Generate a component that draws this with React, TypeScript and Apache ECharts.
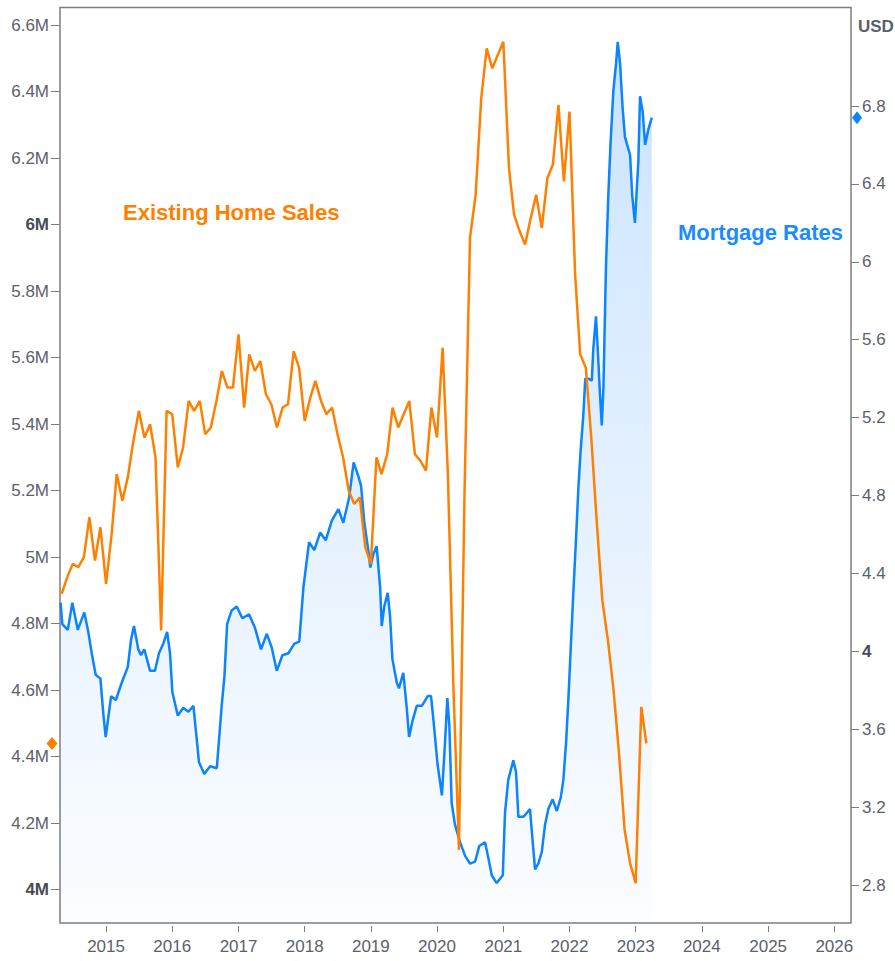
import React, { useEffect, useRef } from 'react';
import * as echarts from 'echarts';

// Existing Home Sales (millions, SAAR), monthly from May 2014
const salesStartYear = 2014;
const salesStartMonth = 5;
const salesValues = [
  4.89, 4.94, 4.98, 4.97, 5.0, 5.12, 4.99, 5.09,
  4.92, 5.07, 5.25, 5.17, 5.24, 5.35, 5.44, 5.36, 5.4, 5.3, 4.78, 5.44,
  5.43, 5.27, 5.33, 5.47, 5.44, 5.47, 5.37, 5.39, 5.47, 5.56, 5.51, 5.51,
  5.67, 5.45, 5.61, 5.56, 5.59, 5.49, 5.46, 5.39, 5.45, 5.46, 5.62, 5.57,
  5.41, 5.48, 5.53, 5.47, 5.43, 5.45, 5.37, 5.3, 5.2, 5.16, 5.18, 5.03,
  4.98, 5.3, 5.25, 5.31, 5.45, 5.39, 5.43, 5.47, 5.31, 5.29, 5.26, 5.45,
  5.36, 5.63, 5.25, 4.6, 4.12, 5.2, 5.96, 6.09, 6.38, 6.53, 6.47, 6.51,
  6.55, 6.17, 6.03, 5.98, 5.94, 6.02, 6.09, 5.99, 6.14, 6.18, 6.36, 6.13,
  6.34, 5.85, 5.61, 5.57, 5.36, 5.1, 4.87, 4.75, 4.6, 4.41, 4.18, 4.08,
  4.02, 4.55, 4.44,
];

// Mortgage Rates (%)
const rateDates = [
  '2014-04-25', '2014-05-05', '2014-06-04', '2014-06-29', '2014-07-29', '2014-09-03', '2014-09-25', '2014-10-14',
  '2014-11-05', '2014-12-01', '2014-12-17', '2014-12-30', '2015-01-29', '2015-02-24', '2015-03-29', '2015-05-01',
  '2015-05-19', '2015-06-04', '2015-06-28', '2015-07-13', '2015-07-31', '2015-09-01', '2015-09-28', '2015-10-20',
  '2015-11-13', '2015-12-04', '2015-12-20', '2016-01-02', '2016-02-01', '2016-03-02', '2016-03-30', '2016-04-27',
  '2016-05-28', '2016-06-26', '2016-07-28', '2016-09-03', '2016-09-30', '2016-10-15', '2016-10-30', '2016-11-24',
  '2016-12-22', '2017-01-22', '2017-02-28', '2017-04-02', '2017-05-05', '2017-06-06', '2017-07-03', '2017-07-31',
  '2017-08-31', '2017-10-03', '2017-11-05', '2017-12-02', '2017-12-25', '2018-01-25', '2018-02-23', '2018-03-27',
  '2018-04-27', '2018-05-30', '2018-07-06', '2018-08-02', '2018-09-03', '2018-09-28', '2018-10-24', '2018-11-08',
  '2018-11-26', '2018-12-18', '2018-12-29', '2019-01-15', '2019-02-02', '2019-02-21', '2019-03-02', '2019-03-16',
  '2019-04-04', '2019-04-17', '2019-04-30', '2019-05-24', '2019-06-05', '2019-06-29', '2019-07-18', '2019-07-31',
  '2019-08-18', '2019-09-11', '2019-10-09', '2019-11-11', '2019-11-29', '2019-12-12', '2020-01-04', '2020-01-28',
  '2020-02-14', '2020-02-27', '2020-03-09', '2020-03-22', '2020-04-09', '2020-05-07', '2020-06-04', '2020-07-01',
  '2020-07-29', '2020-08-21', '2020-09-22', '2020-10-10', '2020-10-29', '2020-11-25', '2020-12-29', '2021-01-10',
  '2021-01-28', '2021-02-25', '2021-03-12', '2021-03-25', '2021-04-21', '2021-05-10', '2021-05-28', '2021-06-12',
  '2021-06-25', '2021-07-13', '2021-08-01', '2021-08-19', '2021-09-06', '2021-09-30', '2021-10-23', '2021-11-14',
  '2021-11-28', '2021-12-13', '2021-12-26', '2022-01-08', '2022-01-22', '2022-02-06', '2022-02-19', '2022-03-04',
  '2022-03-18', '2022-03-29', '2022-04-15', '2022-05-04', '2022-05-12', '2022-05-27', '2022-06-06', '2022-06-18',
  '2022-06-28', '2022-07-07', '2022-07-21', '2022-08-03', '2022-08-16', '2022-08-31', '2022-09-15', '2022-09-24',
  '2022-10-07', '2022-10-21', '2022-11-03', '2022-12-01', '2022-12-13', '2022-12-28', '2023-01-07', '2023-01-16',
  '2023-01-25', '2023-02-09', '2023-02-22', '2023-03-12', '2023-03-31',
];
const rateValues = [
  4.25, 4.14, 4.11, 4.25, 4.11, 4.2, 4.1, 3.99,
  3.88, 3.86, 3.68, 3.56, 3.77, 3.75, 3.84, 3.92,
  4.06, 4.13, 4.01, 3.98, 4.01, 3.9, 3.9, 3.99,
  4.04, 4.1, 3.99, 3.79, 3.67, 3.71, 3.69, 3.72,
  3.43, 3.37, 3.41, 3.4, 3.72, 3.87, 4.14, 4.21,
  4.23, 4.17, 4.19, 4.12, 4.01, 4.09, 4.02, 3.9,
  3.98, 3.99, 4.04, 4.05, 4.33, 4.56, 4.52, 4.61,
  4.57, 4.67, 4.73, 4.66, 4.79, 4.97, 4.9, 4.85,
  4.66, 4.52, 4.43, 4.5, 4.54, 4.33, 4.13, 4.23,
  4.3, 4.18, 3.96, 3.84, 3.81, 3.89, 3.71, 3.56,
  3.64, 3.72, 3.72, 3.77, 3.77, 3.65, 3.42, 3.26,
  3.53, 3.76, 3.62, 3.22, 3.11, 3.02, 2.95, 2.91,
  2.92, 3.0, 3.02, 2.94, 2.85, 2.81, 2.85, 3.17,
  3.34, 3.44, 3.38, 3.15, 3.15, 3.17, 3.19, 3.02,
  2.88, 2.91, 2.97, 3.11, 3.19, 3.24, 3.18, 3.25,
  3.34, 3.53, 3.76, 4.02, 4.3, 4.58, 4.84, 5.04,
  5.21, 5.4, 5.4, 5.39, 5.55, 5.72, 5.55, 5.32,
  5.16, 5.35, 5.97, 6.34, 6.62, 6.88, 7.02, 7.13,
  7.02, 6.79, 6.64, 6.55, 6.34, 6.2, 6.37, 6.52,
  6.85, 6.77, 6.6, 6.68, 6.74,
];

const leftTicks = [4, 4.2, 4.4, 4.6, 4.8, 5, 5.2, 5.4, 5.6, 5.8, 6, 6.2, 6.4, 6.6];
const leftBold = [4, 6];
const rightTicks = [2.8, 3.2, 3.6, 4, 4.4, 4.8, 5.2, 5.6, 6, 6.4, 6.8];
const rightBold = [4];
const yearTicks = [2015, 2016, 2017, 2018, 2019, 2020, 2021, 2022, 2023, 2024, 2025, 2026];

const xMin = '2014-04-22';
const xMax = '2026-04-03';

const ORANGE = '#ff8000';
const BLUE = '#0a84ff';
const LABEL = '#5b616b';
const AXIS = '#7d7d7d';
const FONT = '"Liberation Sans", Arial, sans-serif';

function pad(n: number) {
  return n < 10 ? '0' + n : '' + n;
}
function ts(s: string) {
  const [y, m, d] = s.split('-').map(Number);
  return new Date(y, m - 1, d).getTime();
}

export default function App() {
  const ref = useRef<HTMLDivElement>(null);

  useEffect(() => {
    if (!ref.current) return;
    const chart = echarts.init(ref.current, undefined, { renderer: 'svg' });

    const salesData = salesValues.map((v, i) => {
      const m0 = salesStartMonth - 1 + i;
      const y = salesStartYear + Math.floor(m0 / 12);
      const m = (m0 % 12) + 1;
      return [ts(`${y}-${pad(m)}-01`), v];
    });
    const rateData = rateDates.map((d, i) => [ts(d), rateValues[i]]);
    const xMinTs = ts(xMin);
    const xMaxTs = ts(xMax);
    const yearTs = yearTicks.map((y) => new Date(y, 0, 1).getTime());
    const lastSales = salesValues[salesValues.length - 1];
    const lastRate = rateValues[rateValues.length - 1];

    const fmtNum = (v: number) => {
      const s = (Math.round(v * 10) / 10).toFixed(1);
      return s.endsWith('.0') ? s.slice(0, -2) : s;
    };
    const isIn = (arr: number[], v: number) => arr.some((a) => Math.abs(a - v) < 1e-6);

    const option: any = {
      animation: false,
      backgroundColor: '#ffffff',
      textStyle: { fontFamily: FONT },
      grid: {
        left: 60,
        right: 44,
        top: 7.5,
        bottom: 38,
        show: true,
        borderColor: AXIS,
        borderWidth: 1.5,
        backgroundColor: 'transparent',
        containLabel: false,
        outerBoundsMode: 'none',
      },
      xAxis: {
        type: 'value',
        min: xMinTs,
        max: xMaxTs,
        offset: 3,
        axisLine: { show: false },
        splitLine: { show: false },
        axisTick: {
          show: true,
          length: 6,
          lineStyle: { color: AXIS, width: 1 },
          customValues: yearTs,
        },
        axisLabel: {
          color: LABEL,
          fontSize: 17,
          fontFamily: FONT,
          margin: 12,
          customValues: yearTs,
          formatter: (v: number) => String(new Date(v).getFullYear()),
        },
      },
      yAxis: [
        {
          type: 'value',
          position: 'left',
          min: 3.9,
          max: 6.653,
          axisLine: { show: false },
          splitLine: { show: false },
          axisTick: {
            show: true,
            length: 9,
            lineStyle: { color: AXIS, width: 1 },
            customValues: leftTicks,
          },
          axisLabel: {
            color: LABEL,
            fontSize: 17,
            fontFamily: FONT,
            margin: 11,
            customValues: leftTicks,
            formatter: (v: number) => {
              const t = fmtNum(v) + 'M';
              return isIn(leftBold, v) ? `{b|${t}}` : t;
            },
            rich: {
              b: { fontWeight: 'bold', fontSize: 17, color: '#474c55', fontFamily: FONT },
            },
          },
        },
        {
          type: 'value',
          position: 'right',
          min: 2.605,
          max: 7.306,
          axisLine: { show: false },
          splitLine: { show: false },
          axisTick: {
            show: true,
            length: 8,
            lineStyle: { color: AXIS, width: 1 },
            customValues: rightTicks,
          },
          axisLabel: {
            color: LABEL,
            fontSize: 17,
            fontFamily: FONT,
            margin: 11,
            customValues: rightTicks,
            formatter: (v: number) => {
              const t = fmtNum(v);
              return isIn(rightBold, v) ? `{b|${t}}` : t;
            },
            rich: {
              b: { fontWeight: 'bold', fontSize: 17, color: '#474c55', fontFamily: FONT },
            },
          },
        },
      ],
      series: [
        {
          name: 'Mortgage Rates',
          type: 'line',
          yAxisIndex: 1,
          data: rateData,
          showSymbol: false,
          symbol: 'none',
          clip: false,
          lineStyle: { color: BLUE, width: 2.5 },
          itemStyle: { color: BLUE },
          areaStyle: {
            color: new echarts.graphic.LinearGradient(0, 0, 0, 1, [
              { offset: 0, color: 'rgba(30,136,255,0.33)' },
              { offset: 1, color: 'rgba(30,136,255,0.02)' },
            ]),
          },
          markPoint: {
            silent: true,
            data: [
              {
                coord: [xMaxTs, lastRate],
                symbol: 'diamond',
                symbolSize: [10, 13],
                symbolOffset: [6, 0],
                itemStyle: { color: BLUE },
                label: { show: false },
              },
            ],
          },
        },
        {
          name: 'Existing Home Sales',
          type: 'line',
          yAxisIndex: 0,
          data: salesData,
          showSymbol: false,
          symbol: 'none',
          clip: false,
          lineStyle: { color: ORANGE, width: 2.5 },
          itemStyle: { color: ORANGE },
          markPoint: {
            silent: true,
            data: [
              {
                coord: [xMinTs, lastSales],
                symbol: 'diamond',
                symbolSize: [11, 13],
                symbolOffset: [-8, 0],
                itemStyle: { color: ORANGE },
                label: { show: false },
              },
            ],
          },
        },
      ],
      graphic: [
        {
          type: 'text',
          x: 123,
          y: 212,
          style: {
            text: 'Existing Home Sales',
            fill: ORANGE,
            font: `bold 22px ${FONT}`,
            verticalAlign: 'middle',
          },
        },
        {
          type: 'text',
          x: 678,
          y: 232,
          style: {
            text: 'Mortgage Rates',
            fill: '#1a8cff',
            font: `bold 22px ${FONT}`,
            verticalAlign: 'middle',
          },
        },
        {
          type: 'text',
          x: 858,
          y: 26,
          style: {
            text: 'USD',
            fill: '#5a5f68',
            font: `bold 17px ${FONT}`,
            verticalAlign: 'middle',
          },
        },
      ],
    };

    chart.setOption(option);
    return () => chart.dispose();
  }, []);

  return (
    <div
      ref={ref}
      style={{ position: 'fixed', left: 0, top: 0, width: 895, height: 961, background: '#fff' }}
    />
  );
}
